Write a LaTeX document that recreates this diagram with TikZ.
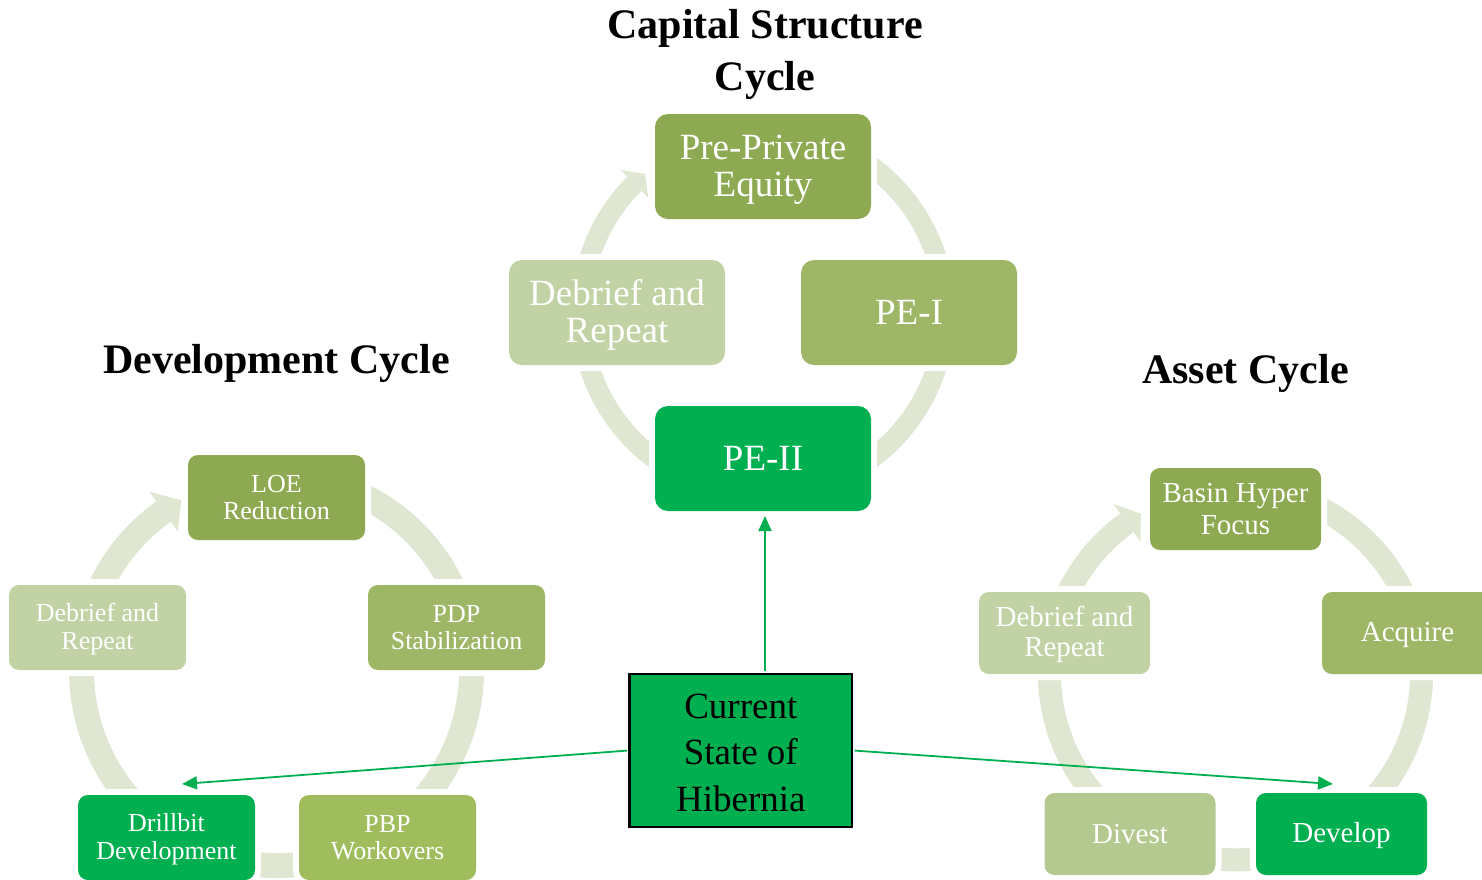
\documentclass[tikz,border=0pt]{standalone}
\usepackage{fontspec}
\setmainfont{Liberation Serif}
\usetikzlibrary{arrows.meta,calc}
\definecolor{ringc}{HTML}{DFE7D3}
\definecolor{cA}{HTML}{8DA951}
\definecolor{cB}{HTML}{9DB766}
\definecolor{cC}{HTML}{A0BD5E}
\definecolor{cD}{HTML}{B3C98F}
\definecolor{cE}{HTML}{C1D3A5}
\definecolor{hl}{HTML}{00B050}
\newcommand{\mystrut}{\rule[-0.17em]{0pt}{1em}}
\newcommand{\curstrut}{\rule[-0.22em]{0pt}{1.22em}}
\begin{document}
\begin{tikzpicture}[x=1pt,y=1pt,
  ring/.style={draw=ringc},
  arrowhd/.style={fill=ringc},
  basebox/.style={inner sep=0pt, align=center, text=white, preaction={draw=white,line width=12pt}},
  cbox/.style={basebox, rounded corners=13pt, minimum width=216pt, minimum height=105pt, font=\fontsize{37}{37.5}\selectfont},
  dbox/.style={basebox, rounded corners=10pt, minimum width=177pt, minimum height=85pt, font=\fontsize{26}{27.5}\selectfont},
  abox/.style={basebox, rounded corners=10pt, minimum width=171pt, minimum height=82pt, font=\fontsize{29}{30}\selectfont},
  title/.style={inner sep=0pt, font=\bfseries\fontsize{42}{52}\selectfont, align=center},
  conn/.style={draw=hl, line width=1.8pt, -{Triangle[length=15pt,width=13pt]}, shorten <=1.3pt}
]
\useasboundingbox (0,0) rectangle (1482,-879);

% ring centres
\coordinate (ccap) at (763,-312.5);
\coordinate (cdev) at (276.5,-670.5);
\coordinate (cast) at (1235.5,-673.8);

% rings
\draw[ring, line width=20pt] ([shift={(-250:182)}]ccap) arc[start angle=-250, end angle=-585, radius=182];
\fill[arrowhd] ([shift={(-225:201.7)}]ccap) -- ([shift={(-229.6:182)}]ccap) -- ([shift={(-225:162.3)}]ccap) -- cycle;

\draw[ring, line width=25pt] ([shift={(-250:195)}]cdev) arc[start angle=-250, end angle=-594.6, radius=195];
\fill[arrowhd] ([shift={(-234.6:219.4)}]cdev) -- ([shift={(-240.8:195)}]cdev) -- ([shift={(-234.6:170.5)}]cdev) -- cycle;

\draw[ring, line width=23pt] ([shift={(-250:186)}]cast) arc[start angle=-250, end angle=-594.3, radius=186];
\fill[arrowhd] ([shift={(-234.3:209.2)}]cast) -- ([shift={(-239.4:186)}]cast) -- ([shift={(-234.3:162.8)}]cast) -- cycle;

% capital structure cycle
\node[cbox, fill=cA] (pre) at (763,-166.5) {\mystrut Pre-Private\\\mystrut Equity};
\node[cbox, fill=cB] (pe1) at (909,-312.5) {\mystrut PE-I};
\node[cbox, fill=hl] (pe2) at (763,-458.5) {\mystrut PE-II};
\node[cbox, fill=cE] (cdeb) at (617,-312.5) {\mystrut Debrief and\\\mystrut Repeat};

% development cycle
\node[dbox, fill=cA] (loe) at (276.5,-497.5) {\mystrut LOE\\\mystrut Reduction};
\node[dbox, fill=cB] (pdp) at (456.5,-627.5) {\mystrut PDP\\\mystrut Stabilization};
\node[dbox, fill=cC] (pbp) at (387.5,-837.5) {\mystrut PBP\\\mystrut Workovers};
\node[dbox, fill=hl] (drill) at (166.5,-837.5) {\mystrut Drillbit\\\mystrut Development};
\node[dbox, fill=cE] (ddeb) at (97.5,-627.5) {\mystrut Debrief and\\\mystrut Repeat};

% asset cycle
\node[abox, fill=cA] (basin) at (1235.5,-509) {\mystrut Basin Hyper\\\mystrut Focus};
\node[abox, fill=cB] (acq) at (1407.5,-633) {\mystrut Acquire};
\node[abox, fill=hl] (devp) at (1341.5,-834) {\mystrut Develop};
\node[abox, fill=cD] (div) at (1130,-834) {\mystrut Divest};
\node[abox, fill=cE] (adeb) at (1064.5,-633) {\mystrut Debrief and\\\mystrut Repeat};

% titles
\node[title, anchor=north] (tcap) at (765,-9.5) {Capital Structure\\Cycle};
\node[title, anchor=base] (tdev) at (276.5,-373) {Development Cycle};
\node[title, anchor=base] (tast) at (1245.5,-383) {Asset Cycle};

% current state
\node[draw=black, line width=2.5pt, fill=hl, minimum width=222.5pt, minimum height=153pt, inner sep=0pt, align=center, font=\fontsize{37}{45}\selectfont] (cur) at (740.8,-750.5) {\curstrut Current\\\curstrut State of\\\curstrut Hibernia};

% connectors
\coordinate (tA) at (765,-516);
\coordinate (tB) at (182,-784);
\coordinate (tC) at (1333,-784);
\draw[conn] (cur.north -| tA) -- (tA);
\draw[conn] (cur.west) -- (tB);
\draw[conn] (cur.east) -- (tC);
\end{tikzpicture}
\end{document}
